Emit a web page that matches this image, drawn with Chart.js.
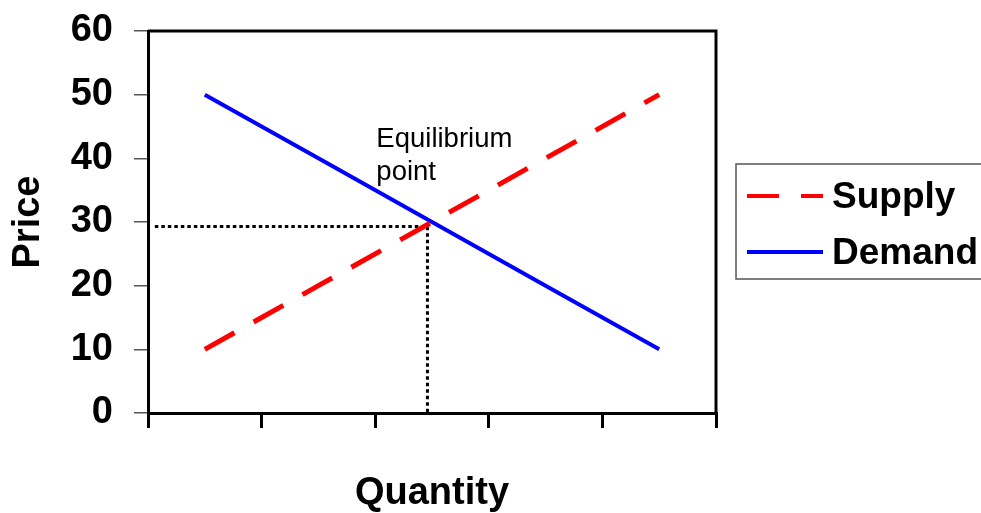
<!DOCTYPE html>
<html>
<head>
<meta charset="utf-8">
<script src="https://cdn.jsdelivr.net/npm/chart.js@4"></script>
<style>
  body { margin: 0; background: #fff; }
  #wrap { position: relative; width: 981px; height: 513px; }
</style>
</head>
<body>
<div id="wrap"><canvas id="chart"></canvas></div>
<script>
const quantity = [0.5, 1.5, 2.5, 3.5, 4.5];
const supply = [10, 20, 30, 40, 50];
const demand = [50, 40, 30, 20, 10];
const guideX = [0.06, 2.46, 2.46];
const guideY = [29.3, 29.3, 0];
const priceMin = 0, priceMax = 60, priceStep = 10;
const quantityMin = 0, quantityMax = 5;
const note = ['Equilibrium', 'point'];
const notePos = { x: 2.01, y: 41.8 };

const FONT = "'Liberation Sans', Arial, sans-serif";

const toPoints = (xs, ys) => xs.map((x, i) => ({ x, y: ys[i] }));

// top and right edges of the plot box
const frame = {
    id: 'frame',
    afterDraw(chart) {
        const { ctx, chartArea: a } = chart;
        ctx.save();
        ctx.strokeStyle = '#000';
        ctx.lineWidth = 3;
        ctx.beginPath();
        ctx.moveTo(a.left, a.top);
        ctx.lineTo(a.right, a.top);
        ctx.lineTo(a.right, a.bottom);
        ctx.stroke();
        ctx.restore();
    }
};

const annotation = {
    id: 'annotation',
    afterDraw(chart) {
        const { ctx, scales } = chart;
        const x = scales.x.getPixelForValue(notePos.x);
        const y = scales.y.getPixelForValue(notePos.y);
        ctx.save();
        ctx.fillStyle = '#000';
        ctx.font = '27.5px ' + FONT;
        ctx.textBaseline = 'alphabetic';
        note.forEach((t, i) => ctx.fillText(t, x, y + i * 33));
        ctx.restore();
    }
};

const boxLegend = {
    id: 'boxLegend',
    afterDraw(chart) {
        const { ctx, chartArea: a } = chart;
        const left = a.right + 20;
        const top = 164;
        ctx.save();
        ctx.strokeStyle = '#555';
        ctx.lineWidth = 1.5;
        ctx.strokeRect(left, top, 260, 115);
        const rows = [0, 1].map(i => chart.data.datasets[i]);
        rows.forEach((ds, i) => {
            const y = top + 32 + i * 56;
            ctx.strokeStyle = ds.borderColor;
            ctx.lineWidth = 4;
            ctx.setLineDash(i === 0 ? [32, 22] : []);
            ctx.beginPath();
            ctx.moveTo(left + 11, y);
            ctx.lineTo(left + 87, y);
            ctx.stroke();
            ctx.setLineDash([]);
            ctx.fillStyle = '#000';
            ctx.font = 'bold 37px ' + FONT;
            ctx.textBaseline = 'middle';
            ctx.fillText(ds.label, left + 96, y + 2);
        });
        ctx.restore();
    }
};

new Chart(document.getElementById('chart'), {
    type: 'line',
    data: {
        datasets: [
            {
                label: 'Supply',
                data: toPoints(quantity, supply),
                borderColor: '#ff0000',
                borderWidth: 5,
                borderDash: [34, 22],
                pointRadius: 0
            },
            {
                label: 'Demand',
                data: toPoints(quantity, demand),
                borderColor: '#0000ff',
                borderWidth: 4,
                pointRadius: 0
            },
            {
                label: 'guide',
                data: toPoints(guideX, guideY),
                borderColor: '#000',
                borderWidth: 3,
                borderDash: [3.5, 3],
                pointRadius: 0
            }
        ]
    },
    options: {
        responsive: true,
        maintainAspectRatio: false,
        animation: false,
        layout: { padding: { left: 0, right: 265, top: 31, bottom: 0 } },
        plugins: {
            legend: { display: false },
            tooltip: { enabled: false }
        },
        scales: {
            x: {
                type: 'linear',
                min: quantityMin,
                max: quantityMax,
                ticks: { display: false, stepSize: 1 },
                grid: { drawOnChartArea: false, color: '#000', lineWidth: 3, tickLength: 15 },
                border: { color: '#000', width: 3 },
                title: {
                    display: true,
                    text: 'Quantity',
                    color: '#000',
                    font: { family: FONT, size: 38, weight: 'bold', lineHeight: 1 },
                    padding: { top: 0, bottom: 0 }
                },
                afterFit(scale) {
                    scale.height = 100;
                    scale.paddingLeft = 0;
                    scale.paddingRight = 0;
                }
            },
            y: {
                min: priceMin,
                max: priceMax,
                ticks: {
                    stepSize: priceStep,
                    padding: 21,
                    color: '#000',
                    font: { family: FONT, size: 38, weight: 'bold' }
                },
                grid: { drawOnChartArea: false, color: '#555', lineWidth: 1.5, tickLength: 14 },
                border: { color: '#000', width: 3 },
                title: {
                    display: true,
                    text: 'Price',
                    color: '#000',
                    font: { family: FONT, size: 38, weight: 'bold', lineHeight: 1 },
                    padding: { top: 10, bottom: 0 }
                },
                afterFit(scale) {
                    scale.width = 148;
                    scale.paddingTop = 0;
                    scale.paddingBottom = 0;
                }
            }
        }
    },
    plugins: [frame, annotation, boxLegend]
});
</script>
</body>
</html>
